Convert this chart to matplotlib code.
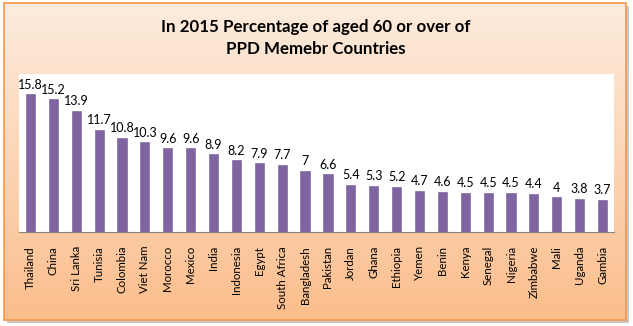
import numpy as np
import matplotlib.pyplot as plt
from matplotlib.patches import Rectangle

countries = ["Thailand", "China", "Sri Lanka", "Tunisia", "Colombia", "Viet Nam",
             "Morocco", "Mexico", "India", "Indonesia", "Egypt", "South Africa",
             "Bangladesh", "Pakistan", "Jordan", "Ghana", "Ethiopia", "Yemen",
             "Benin", "Kenya", "Senegal", "Nigeria", "Zimbabwe", "Mali",
             "Uganda", "Gambia"]
values = [15.8, 15.2, 13.9, 11.7, 10.8, 10.3, 9.6, 9.6, 8.9, 8.2, 7.9, 7.7,
          7, 6.6, 5.4, 5.3, 5.2, 4.7, 4.6, 4.5, 4.5, 4.5, 4.4, 4, 3.8, 3.7]
title = "In 2015 Percentage of aged 60 or over of\nPPD Memebr Countries"

plt.rcParams['font.family'] = ['Lato', 'DejaVu Sans']

W, H = 633, 326
fig = plt.figure(figsize=(W / 100, H / 100), dpi=100)
fig.patch.set_facecolor('white')

# background panel with vertical gradient
bg = fig.add_axes([0, 0, 1, 1])
bg.set_xlim(0, W)
bg.set_ylim(H, 0)
bg.axis('off')
x0, y0, x1, y1 = 4, 3, 626, 320
# shadow
bg.add_patch(Rectangle((x0 + 3, y0 + 3), x1 - x0, y1 - y0, facecolor='#c8c8c8',
                       edgecolor='none', zorder=0))
grad = np.linspace(0, 1, 256).reshape(-1, 1)
top = np.array([253, 236, 222]) / 255
bot = np.array([251, 190, 140]) / 255
img = top + (bot - top) * grad[..., None]
bg.imshow(img, extent=(x0, x1, y1, y0), aspect='auto', zorder=1)
bg.add_patch(Rectangle((x0, y0), x1 - x0, y1 - y0, facecolor='none',
                       edgecolor='#f79646', lw=1.2, zorder=2))
bg.text(316, 38, title, ha='center', va='center', fontsize=12.2,
        fontweight='bold', linespacing=1.4, zorder=3)

# plot area
left, right, ptop, pbot = 19, 614, 74, 232
ax = fig.add_axes([left / W, 1 - pbot / H, (right - left) / W, (pbot - ptop) / H])
ax.set_facecolor('white')
x = np.arange(len(countries))
ax.bar(x, values, width=0.4, color='#8064a2', edgecolor='#725992', lw=0.4)
for xi, v in zip(x, values):
    ax.text(xi, v + 0.4, f"{v:g}", ha='center', va='bottom', fontsize=9)
ax.set_xlim(-0.5, len(countries) - 0.5)
ax.set_ylim(0, 18.1)
ax.set_yticks([])
ax.set_xticks(x)
ax.set_xticklabels(countries, rotation=90, fontsize=8.3)
ax.tick_params(axis='x', length=0, pad=10)
for s in ['top', 'left', 'right']:
    ax.spines[s].set_visible(False)
ax.spines['bottom'].set_color('#868686')
ax.spines['bottom'].set_linewidth(0.8)

fig.savefig('out.png', dpi=100)
